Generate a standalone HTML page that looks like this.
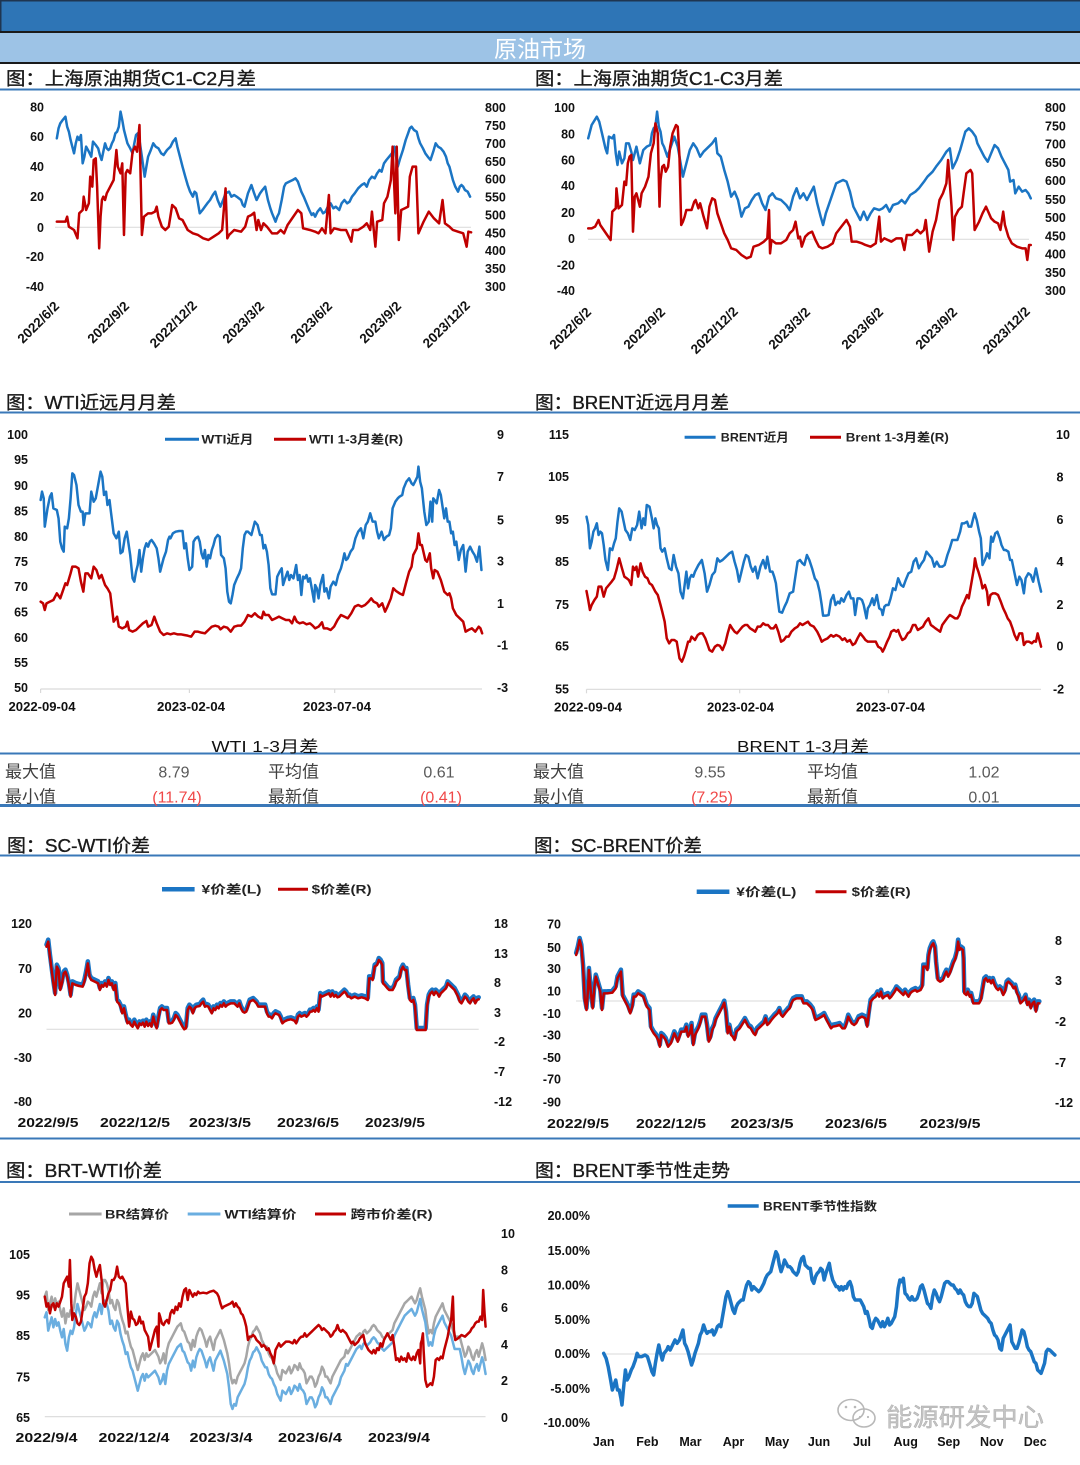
<!DOCTYPE html>
<html><head><meta charset="utf-8">
<style>
html,body{margin:0;padding:0;background:#fff;}
body{width:1080px;height:1465px;overflow:hidden;}
svg{display:block;}
.t{font-family:"Liberation Sans","Noto Sans CJK SC",sans-serif;font-size:12.5px;font-weight:bold;fill:#111;}
.rt{font-family:"Liberation Sans",sans-serif;font-size:13.5px;font-weight:bold;fill:#111;}
.ttl{font-family:"Liberation Sans","Noto Sans CJK SC",sans-serif;font-size:18px;fill:#1a1a1a;stroke:#1a1a1a;stroke-width:0.35;}
.lg{font-family:"Liberation Sans","Noto Sans CJK SC",sans-serif;font-size:12px;font-weight:bold;fill:#222;}
.tb{font-family:"Liberation Sans","Noto Sans CJK SC",sans-serif;font-size:17px;fill:#404040;}
.nm{font-family:"Liberation Sans",sans-serif;font-size:16px;fill:#595959;}
.rd{font-family:"Liberation Sans",sans-serif;font-size:16px;fill:#f04848;}
.pl{fill:none;stroke-linejoin:round;stroke-linecap:round;}
</style></head><body>
<svg width="1080" height="1465" viewBox="0 0 1080 1465" xmlns="http://www.w3.org/2000/svg">
<!-- header -->
<rect x="0" y="0" width="1080" height="31" fill="#2e75b6"/>
<rect x="0" y="0" width="1080" height="1.5" fill="#1f3550"/>
<rect x="0" y="0" width="1.5" height="64" fill="#1f3550"/>
<rect x="0" y="31" width="1080" height="2" fill="#1a1a1a"/>
<rect x="0" y="33" width="1080" height="29" fill="#9dc3e6"/>
<rect x="0" y="62" width="1080" height="2" fill="#1a1a1a"/>
<text x="540" y="57" text-anchor="middle" font-family="Liberation Sans,Noto Sans CJK SC,sans-serif" font-size="23" fill="#ffffff">原油市场</text>

<!-- separators -->
<g fill="#3a78b8">
<rect x="0" y="88.5" width="1080" height="2"/>
<rect x="0" y="411.5" width="1080" height="2"/>
<rect x="0" y="752.5" width="1080" height="2"/>
<rect x="0" y="804" width="1080" height="3"/>
<rect x="0" y="854.5" width="1080" height="2"/>
<rect x="0" y="1137.5" width="1080" height="2"/>
<rect x="0" y="1181" width="1080" height="2"/>
</g>

<!-- section titles -->
<text class="ttl" x="6" y="85" textLength="250" lengthAdjust="spacingAndGlyphs">图：上海原油期货C1-C2月差</text>
<text class="ttl" x="535" y="85" textLength="248" lengthAdjust="spacingAndGlyphs">图：上海原油期货C1-C3月差</text>
<text class="ttl" x="6" y="409" textLength="170" lengthAdjust="spacingAndGlyphs">图：WTI近远月月差</text>
<text class="ttl" x="535" y="409" textLength="194" lengthAdjust="spacingAndGlyphs">图：BRENT近远月月差</text>
<text class="ttl" x="7" y="852" textLength="143" lengthAdjust="spacingAndGlyphs">图：SC-WTI价差</text>
<text class="ttl" x="534" y="852" textLength="168" lengthAdjust="spacingAndGlyphs">图：SC-BRENT价差</text>
<text class="ttl" x="6" y="1177" textLength="156" lengthAdjust="spacingAndGlyphs">图：BRT-WTI价差</text>
<text class="ttl" x="535" y="1177" textLength="195" lengthAdjust="spacingAndGlyphs">图：BRENT季节性走势</text>

<!-- ===== Chart 1 ===== -->
<line x1="55" y1="227.3" x2="471" y2="227.3" stroke="#d9d9d9" stroke-width="1"/>
<g class="t" text-anchor="end">
<text x="44" y="111.5">80</text><text x="44" y="141.2">60</text><text x="44" y="171.2">40</text><text x="44" y="201.2">20</text><text x="44" y="231.8">0</text><text x="44" y="261.2">-20</text><text x="44" y="291.2">-40</text>
</g>
<g class="t">
<text x="485" y="111.8">800</text><text x="485" y="129.8">750</text><text x="485" y="147.8">700</text><text x="485" y="165.8">650</text><text x="485" y="183.5">600</text><text x="485" y="201.5">550</text><text x="485" y="219.5">500</text><text x="485" y="237.5">450</text><text x="485" y="255.2">400</text><text x="485" y="273.2">350</text><text x="485" y="291.2">300</text>
</g>
<g class="rt" text-anchor="middle">
<text x="38" y="327" transform="rotate(-45 38 322)">2022/6/2</text>
<text x="108" y="327" transform="rotate(-45 108 322)">2022/9/2</text>
<text x="173" y="329" transform="rotate(-45 173 324)">2022/12/2</text>
<text x="243" y="327" transform="rotate(-45 243 322)">2023/3/2</text>
<text x="311" y="327" transform="rotate(-45 311 322)">2023/6/2</text>
<text x="380" y="327" transform="rotate(-45 380 322)">2023/9/2</text>
<text x="446" y="329" transform="rotate(-45 446 324)">2023/12/2</text>
</g>
<g transform="translate(0,0) scale(0.34439,0.33333)">
<polyline class="pl" vector-effect="non-scaling-stroke" stroke="#1b75c4" stroke-width="2.5" points="165,415 170,385 175,370 182,360 190,350 195,380 200,395 205,420 210,440 215,460 220,430 225,410 230,420 235,405 240,490 245,470 250,440 258,455 265,470 270,425 278,435 285,445 290,465 295,480 300,455 305,430 310,445 315,450 320,445 325,430 330,420 335,400 340,395 345,380 350,335 355,360 360,390 365,410 370,430 378,445 385,460 390,430 395,405 400,400 405,420 412,470 420,530 425,500 430,470 438,450 445,430 452,440 460,445 468,460 475,465 485,450 495,440 502,425 510,415 515,440 520,460 525,480 530,500 538,530 545,555 552,575 560,590 565,575 570,580 575,610 580,640 588,630 595,620 602,610 610,600 618,585 625,575 632,600 640,620 648,600 655,580 665,575 672,590 680,585 690,592 700,600 705,615 710,620 720,580 730,555 738,580 745,600 755,580 762,570 770,560 778,600 785,625 790,640 800,665 805,650 810,640 818,600 825,560 830,550 840,545 850,540 858,535 865,545 870,560 875,575 882,590 890,610 898,630 905,645 910,640 915,650 922,635 930,625 938,640 945,635 952,620 960,610 968,625 975,620 980,625 985,630 992,610 1000,600 1008,610 1015,605 1022,590 1030,580 1040,565 1050,555 1058,550 1065,560 1072,540 1080,530 1088,535 1095,520 1102,510 1108,515 1115,490 1122,480 1130,470 1138,460 1145,440 1150,470 1155,500 1162,475 1170,450 1178,420 1185,400 1190,385 1195,380 1202,390 1210,395 1215,415 1220,430 1228,445 1235,460 1242,470 1250,480 1258,455 1265,430 1272,440 1280,445 1288,455 1295,470 1300,490 1305,500 1310,520 1315,540 1322,560 1330,575 1335,560 1340,555 1345,560 1350,570 1358,575 1365,590"/>
<polyline class="pl" vector-effect="non-scaling-stroke" stroke="#c00000" stroke-width="2.5" points="165,665 190,665 195,650 200,680 215,690 225,715 230,640 240,630 243,590 250,630 258,610 262,530 268,560 272,480 278,475 282,560 288,745 292,650 296,600 300,590 305,600 310,580 320,560 330,540 338,450 342,500 350,520 355,490 360,705 365,520 370,510 378,520 385,455 392,440 398,455 405,375 412,705 418,650 430,640 440,640 450,635 455,620 460,650 470,680 480,690 490,680 500,615 510,625 520,655 530,660 545,690 560,700 575,705 590,715 605,720 620,710 635,700 645,690 655,565 660,715 665,705 680,690 700,695 712,680 720,650 730,645 738,638 745,690 750,660 758,690 765,670 775,680 790,700 805,700 815,690 825,700 835,675 845,660 855,645 865,630 875,640 880,685 900,690 915,695 925,700 935,685 945,700 955,585 960,700 970,685 990,690 1005,690 1020,725 1025,690 1040,690 1055,680 1065,670 1075,690 1080,635 1090,740 1095,665 1110,660 1115,610 1125,590 1135,540 1140,440 1148,640 1152,440 1158,720 1165,630 1175,625 1185,620 1190,530 1198,500 1208,500 1215,700 1230,665 1245,635 1260,655 1275,670 1285,600 1292,670 1305,680 1315,690 1330,695 1345,700 1355,740 1360,695 1368,697"/>
</g>

<!-- ===== Chart 2 ===== -->
<line x1="588" y1="239.3" x2="1029" y2="239.3" stroke="#d9d9d9" stroke-width="1"/>
<g class="t" text-anchor="end">
<text x="575" y="111.8">100</text><text x="575" y="138.5">80</text><text x="575" y="164.5">60</text><text x="575" y="190.2">40</text><text x="575" y="216.8">20</text><text x="575" y="242.8">0</text><text x="575" y="269.5">-20</text><text x="575" y="295.2">-40</text>
</g>
<g class="t">
<text x="1045" y="111.8">800</text><text x="1045" y="130.5">750</text><text x="1045" y="148.5">700</text><text x="1045" y="167.2">650</text><text x="1045" y="185.2">600</text><text x="1045" y="203.8">550</text><text x="1045" y="221.8">500</text><text x="1045" y="240.5">450</text><text x="1045" y="258.5">400</text><text x="1045" y="277.2">350</text><text x="1045" y="295.2">300</text>
</g>
<g class="rt" text-anchor="middle">
<text x="570" y="333" transform="rotate(-45 570 328)">2022/6/2</text>
<text x="644" y="333" transform="rotate(-45 644 328)">2022/9/2</text>
<text x="714" y="335" transform="rotate(-45 714 330)">2022/12/2</text>
<text x="789" y="333" transform="rotate(-45 789 328)">2023/3/2</text>
<text x="862" y="333" transform="rotate(-45 862 328)">2023/6/2</text>
<text x="936" y="333" transform="rotate(-45 936 328)">2023/9/2</text>
<text x="1006" y="335" transform="rotate(-45 1006 330)">2023/12/2</text>
</g>
<g transform="translate(540,0) scale(0.34439,0.33333)">
<polyline class="pl" vector-effect="non-scaling-stroke" stroke="#1b75c4" stroke-width="2.5" points="140,415 150,375 165,350 172,365 180,400 190,445 195,460 200,410 210,415 215,405 220,460 225,495 230,455 238,490 245,475 250,430 258,430 265,455 270,480 280,440 290,490 300,450 310,440 320,435 325,400 330,385 335,380 340,335 345,380 350,395 355,430 360,440 370,470 380,440 390,410 400,440 410,500 415,530 425,490 435,450 445,430 455,445 465,470 475,455 490,440 500,430 510,415 515,460 525,470 535,510 545,545 555,590 565,575 575,600 585,650 595,625 605,620 615,600 625,585 635,580 645,610 655,630 665,590 675,580 685,595 700,600 715,615 725,630 735,590 745,565 755,595 765,580 775,600 785,580 795,560 805,610 815,650 822,675 830,640 840,610 850,580 860,550 870,545 880,540 890,545 900,575 910,620 920,640 930,660 940,635 950,660 960,640 970,625 985,630 995,625 1005,615 1015,635 1025,615 1040,610 1050,600 1060,610 1075,585 1090,575 1100,565 1115,545 1125,530 1140,515 1150,500 1165,480 1180,455 1190,445 1198,505 1210,480 1220,450 1235,395 1245,385 1255,395 1265,410 1270,430 1280,450 1290,470 1300,485 1310,460 1320,435 1330,445 1340,470 1350,490 1360,510 1365,545 1375,540 1380,580 1390,560 1400,575 1410,570 1418,580 1425,595"/>
<polyline class="pl" vector-effect="non-scaling-stroke" stroke="#c00000" stroke-width="2.5" points="140,685 150,685 160,680 170,660 175,675 185,690 195,705 205,720 210,635 220,625 222,565 228,625 238,615 245,545 250,555 255,490 260,470 265,465 270,695 275,590 280,580 285,600 290,620 295,580 305,560 315,530 322,460 330,430 335,370 342,400 347,620 350,540 355,500 360,495 365,515 372,500 378,440 385,400 395,375 400,380 405,470 410,675 415,665 420,650 425,630 440,630 448,605 452,600 460,625 465,610 475,650 485,685 492,620 500,595 508,600 515,640 525,670 535,700 545,720 555,745 570,750 585,765 600,775 612,770 620,740 635,735 650,725 660,715 665,630 668,760 672,720 685,730 700,730 715,720 725,700 735,690 742,665 750,715 755,710 760,740 770,710 780,700 790,695 800,720 810,740 820,745 835,740 850,730 860,700 875,680 890,660 900,680 905,725 920,725 935,730 945,735 960,740 975,730 985,650 990,725 1000,715 1010,720 1020,725 1035,715 1050,715 1058,750 1065,705 1080,705 1095,690 1105,700 1115,690 1120,660 1130,755 1140,695 1150,660 1160,600 1170,580 1180,550 1185,480 1190,550 1195,620 1200,720 1205,650 1215,630 1225,620 1230,580 1238,520 1250,510 1255,520 1262,690 1275,665 1285,640 1295,620 1310,655 1320,665 1330,670 1337,690 1345,635 1350,675 1360,710 1370,730 1385,740 1400,745 1410,745 1415,780 1420,735 1425,735"/>
</g>

<!-- ===== Chart 3 WTI ===== -->
<line x1="40.6" y1="689" x2="482" y2="689" stroke="#d9d9d9" stroke-width="1.2"/>
<g stroke="#d9d9d9" stroke-width="1.2"><line x1="40.6" y1="689" x2="40.6" y2="693"/><line x1="189.4" y1="689" x2="189.4" y2="693"/><line x1="334.7" y1="689" x2="334.7" y2="693"/></g>
<g class="t" text-anchor="end">
<text x="28" y="438.8">100</text><text x="28" y="464.2">95</text><text x="28" y="490.2">90</text><text x="28" y="515.5">85</text><text x="28" y="541.2">80</text><text x="28" y="566.2">75</text><text x="28" y="591.2">70</text><text x="28" y="616.5">65</text><text x="28" y="641.8">60</text><text x="28" y="667.2">55</text><text x="28" y="692.2">50</text>
</g>
<g class="t">
<text x="497" y="438.8">9</text><text x="497" y="481.2">7</text><text x="497" y="524.5">5</text><text x="497" y="565.5">3</text><text x="497" y="607.8">1</text><text x="497" y="649.5">-1</text><text x="497" y="692.2">-3</text>
</g>
<g class="t" text-anchor="middle">
<text x="42" y="711" textLength="67" lengthAdjust="spacingAndGlyphs">2022-09-04</text>
<text x="191" y="711" textLength="68" lengthAdjust="spacingAndGlyphs">2023-02-04</text>
<text x="337" y="711" textLength="68" lengthAdjust="spacingAndGlyphs">2023-07-04</text>
</g>
<line x1="165" y1="439.3" x2="199" y2="439.3" stroke="#1b75c4" stroke-width="3"/>
<text class="lg" x="201.5" y="443.5" textLength="52" lengthAdjust="spacingAndGlyphs">WTI近月</text>
<line x1="274" y1="439.3" x2="306" y2="439.3" stroke="#c00000" stroke-width="3"/>
<text class="lg" x="309" y="443.5" textLength="94" lengthAdjust="spacingAndGlyphs">WTI 1-3月差(R)</text>
<g transform="translate(0,385) scale(0.34439,0.33333)">
<polyline class="pl" vector-effect="non-scaling-stroke" stroke="#1b75c4" stroke-width="2.5" points="118,345 122,320 127,340 130,425 138,370 145,335 150,325 155,370 165,375 170,400 175,470 180,490 185,500 188,425 195,430 200,400 205,340 210,265 215,270 222,300 228,360 235,380 240,380 243,420 248,385 260,385 265,320 272,350 278,340 285,300 292,260 297,275 302,330 308,320 312,360 318,345 322,380 330,445 338,460 345,440 350,505 356,500 362,460 368,440 373,475 378,510 385,580 390,590 395,560 400,540 405,495 410,560 415,520 420,490 425,475 430,485 435,470 440,465 447,475 455,490 460,520 465,560 470,540 475,520 482,500 488,465 492,455 495,460 502,445 510,440 520,438 530,438 535,490 540,475 545,520 550,555 558,545 562,470 568,460 575,455 580,470 585,505 590,520 595,495 600,545 605,510 610,520 615,495 620,480 625,460 632,450 638,455 642,510 650,520 655,550 660,620 665,650 670,655 675,630 680,600 688,580 695,565 700,550 705,490 710,450 715,440 720,440 730,450 735,430 740,410 748,420 755,450 760,450 765,490 770,480 775,500 780,540 785,610 790,628 800,628 805,575 812,560 818,550 822,600 828,580 835,560 840,585 845,570 852,580 860,540 865,585 870,570 875,630 880,575 885,580 890,570 895,590 900,580 907,620 912,650 915,600 920,610 925,640 930,600 938,570 942,620 948,610 955,640 960,605 968,590 975,600 982,570 990,550 995,530 1000,505 1005,525 1010,520 1018,500 1025,490 1032,460 1040,440 1048,430 1055,460 1062,420 1068,410 1075,385 1082,410 1090,410 1095,440 1100,460 1108,440 1115,465 1122,455 1130,450 1135,430 1140,370 1148,350 1155,340 1160,335 1168,330 1172,310 1180,290 1188,280 1195,295 1200,300 1205,290 1212,275 1215,245 1220,290 1225,310 1232,380 1238,420 1245,410 1250,350 1255,410 1258,340 1262,345 1268,355 1275,315 1280,330 1285,365 1290,400 1295,370 1300,410 1305,410 1310,445 1315,440 1320,480 1325,470 1332,525 1338,495 1345,480 1352,560 1358,500 1365,485 1372,500 1378,510 1385,530 1392,485 1398,555"/>
<polyline class="pl" vector-effect="non-scaling-stroke" stroke="#c00000" stroke-width="2.5" points="118,650 125,655 130,675 135,655 145,650 155,645 165,625 175,640 185,610 190,595 195,600 205,565 210,545 220,545 228,550 235,590 242,620 248,565 255,565 265,580 272,545 280,555 288,580 295,570 305,600 312,610 320,625 330,710 340,695 345,725 355,730 365,725 370,710 375,735 385,740 395,735 405,725 415,715 425,708 430,725 440,720 448,695 455,715 465,740 475,750 485,745 495,748 505,745 515,748 525,748 535,750 545,752 555,755 565,740 575,740 585,743 595,745 605,735 615,725 625,722 635,725 640,733 650,725 660,728 670,740 680,725 690,722 700,722 710,710 720,690 730,695 740,685 750,695 760,700 765,680 770,690 780,690 790,705 800,700 810,695 820,700 830,705 840,705 848,715 855,695 862,710 870,715 880,712 890,718 900,715 908,722 915,730 925,725 935,712 940,730 950,730 960,735 970,725 980,705 990,690 1000,695 1010,700 1020,685 1030,665 1040,660 1050,665 1060,660 1070,650 1078,640 1085,650 1095,655 1100,665 1110,655 1118,680 1125,665 1135,640 1142,610 1150,618 1160,625 1170,630 1180,590 1188,560 1195,545 1200,510 1210,490 1215,445 1220,480 1225,480 1235,525 1240,530 1248,505 1252,550 1258,580 1262,555 1270,560 1280,585 1290,620 1300,630 1305,625 1310,640 1315,670 1325,690 1335,700 1345,710 1352,740 1360,735 1370,730 1380,740 1390,725 1395,730 1400,745"/>
</g>

<!-- ===== Chart 4 BRENT ===== -->
<line x1="586.5" y1="689.3" x2="1041" y2="689.3" stroke="#d9d9d9" stroke-width="1.2"/>
<g stroke="#d9d9d9" stroke-width="1.2"><line x1="586.5" y1="689.3" x2="586.5" y2="693.3"/><line x1="739.7" y1="689.3" x2="739.7" y2="693.3"/><line x1="888.5" y1="689.3" x2="888.5" y2="693.3"/></g>
<g class="t" text-anchor="end">
<text x="569" y="438.8">115</text><text x="569" y="481.2">105</text><text x="569" y="523.8">95</text><text x="569" y="566.2">85</text><text x="569" y="608.8">75</text><text x="569" y="650.5">65</text><text x="569" y="693.5">55</text>
</g>
<g class="t">
<text x="1056" y="438.8">10</text><text x="1056.5" y="481.5">8</text><text x="1056.5" y="523.8">6</text><text x="1056.5" y="566.2">4</text><text x="1056.5" y="608.8">2</text><text x="1056.5" y="650.5">0</text><text x="1053" y="693.5">-2</text>
</g>
<g class="t" text-anchor="middle">
<text x="588" y="711.5" textLength="68" lengthAdjust="spacingAndGlyphs">2022-09-04</text>
<text x="740.5" y="711.5" textLength="67" lengthAdjust="spacingAndGlyphs">2023-02-04</text>
<text x="890.5" y="711.5" textLength="69" lengthAdjust="spacingAndGlyphs">2023-07-04</text>
</g>
<line x1="684.6" y1="437.3" x2="715.6" y2="437.3" stroke="#1b75c4" stroke-width="3"/>
<text class="lg" x="720.8" y="441.5" textLength="68" lengthAdjust="spacingAndGlyphs">BRENT近月</text>
<line x1="810" y1="437.3" x2="841" y2="437.3" stroke="#c00000" stroke-width="3"/>
<text class="lg" x="845.8" y="441.5" textLength="103" lengthAdjust="spacingAndGlyphs">Brent 1-3月差(R)</text>
<g transform="translate(540,385) scale(0.34439,0.33333)">
<polyline class="pl" vector-effect="non-scaling-stroke" stroke="#1b75c4" stroke-width="2.5" points="135,395 140,420 145,490 150,470 155,440 160,430 165,415 170,450 175,440 180,445 185,480 190,525 197,555 203,490 210,495 215,475 220,460 225,410 230,370 237,380 242,405 248,435 255,445 262,465 268,430 275,435 282,420 288,380 295,430 300,400 305,420 310,360 318,365 325,400 330,430 335,400 340,420 345,430 350,490 355,500 362,490 368,520 375,550 382,555 388,510 395,545 402,565 408,620 415,640 420,600 425,560 430,610 435,580 440,570 445,575 450,560 460,540 470,525 478,565 485,620 492,600 500,570 508,560 515,520 522,530 530,525 540,515 550,505 558,500 565,530 572,555 578,590 585,560 592,530 598,510 605,515 612,545 618,560 625,545 632,580 640,545 648,525 655,550 660,515 668,560 675,560 680,575 685,595 690,640 695,680 703,683 710,665 717,650 725,625 735,620 740,585 748,530 755,525 762,535 768,540 775,510 782,525 790,550 798,580 805,590 812,620 818,660 822,692 830,692 838,690 845,645 852,630 858,660 865,650 870,655 875,640 882,650 890,630 897,620 903,640 910,640 915,690 922,640 928,640 935,645 940,660 948,700 952,670 958,660 965,640 970,660 978,630 985,670 992,675 995,690 1000,665 1005,660 1012,660 1018,640 1025,610 1032,615 1040,580 1048,600 1055,605 1062,585 1070,565 1078,560 1085,530 1092,520 1100,550 1108,535 1115,525 1122,500 1130,510 1138,520 1145,545 1152,530 1160,545 1168,545 1175,540 1183,510 1190,490 1197,465 1205,465 1212,465 1220,440 1225,415 1232,415 1240,410 1245,425 1252,425 1258,400 1262,385 1268,405 1275,440 1280,460 1285,540 1292,525 1298,505 1305,520 1310,455 1315,470 1322,445 1328,440 1335,460 1340,480 1347,495 1352,495 1360,500 1365,525 1370,525 1378,565 1385,600 1392,575 1398,585 1405,625 1410,580 1418,565 1425,570 1432,590 1440,550 1448,590 1455,620"/>
<polyline class="pl" vector-effect="non-scaling-stroke" stroke="#c00000" stroke-width="2.5" points="135,618 140,645 145,675 150,660 158,645 165,635 170,605 178,605 185,635 192,610 200,600 208,590 215,580 222,555 230,520 238,550 245,575 252,580 258,585 265,600 270,545 275,555 280,545 285,575 292,535 298,560 305,575 312,580 318,595 325,600 335,620 342,630 350,660 355,680 362,710 368,760 375,775 382,765 390,765 397,770 405,820 412,830 418,815 425,790 430,770 435,770 440,755 450,765 458,750 465,745 472,745 480,760 487,780 492,795 500,800 508,785 515,780 522,782 530,795 538,775 545,745 552,720 558,730 565,740 572,745 580,735 588,725 595,720 602,720 610,730 618,735 625,740 632,725 640,725 648,715 655,720 662,720 670,730 678,730 685,720 692,740 700,770 708,765 715,755 722,755 730,740 740,730 748,725 755,715 762,720 770,715 778,710 785,720 795,725 805,740 812,755 818,770 825,765 835,760 845,750 852,755 860,750 870,755 878,765 885,760 892,770 900,765 908,780 915,775 922,760 930,745 938,755 945,765 952,770 960,770 975,770 982,785 990,790 995,800 1000,790 1008,770 1015,755 1020,740 1028,735 1035,740 1040,735 1045,750 1052,765 1060,760 1068,745 1075,740 1083,720 1090,720 1097,735 1105,730 1112,725 1120,710 1128,700 1135,720 1142,725 1148,730 1155,735 1162,740 1168,720 1175,710 1182,700 1190,690 1198,695 1205,700 1212,700 1218,690 1225,665 1232,650 1240,630 1245,640 1250,610 1255,580 1260,550 1263,520 1268,545 1273,560 1280,585 1285,610 1292,600 1298,620 1302,660 1308,630 1315,625 1322,625 1330,630 1338,650 1345,670 1352,685 1358,700 1365,710 1372,730 1378,750 1385,765 1392,745 1400,745 1405,780 1412,770 1420,770 1428,775 1435,768 1440,770 1445,745 1450,765 1455,785"/>
</g>

<!-- ===== Table ===== -->
<text x="265" y="752" text-anchor="middle" font-family="Liberation Sans,Noto Sans CJK SC,sans-serif" font-size="16" fill="#111" textLength="107" lengthAdjust="spacingAndGlyphs">WTI 1-3月差</text>
<text x="803" y="752" text-anchor="middle" font-family="Liberation Sans,Noto Sans CJK SC,sans-serif" font-size="16" fill="#111" textLength="132" lengthAdjust="spacingAndGlyphs">BRENT 1-3月差</text>
<text class="tb" x="5" y="777.5">最大值</text>
<text class="tb" x="268" y="777.5">平均值</text>
<text class="tb" x="533" y="777.5">最大值</text>
<text class="tb" x="807" y="777.5">平均值</text>
<text class="tb" x="5" y="802.5">最小值</text>
<text class="tb" x="268" y="802.5">最新值</text>
<text class="tb" x="533" y="802.5">最小值</text>
<text class="tb" x="807" y="802.5">最新值</text>
<g text-anchor="middle">
<text class="nm" x="174" y="777.5">8.79</text>
<text class="nm" x="439" y="777.5">0.61</text>
<text class="nm" x="710" y="777.5">9.55</text>
<text class="nm" x="984" y="777.5">1.02</text>
<text class="rd" x="177" y="802.5">(11.74)</text>
<text class="rd" x="441" y="802.5">(0.41)</text>
<text class="rd" x="712" y="802.5">(7.25)</text>
<text class="nm" x="984" y="802.5">0.01</text>
</g>

<!-- ===== Chart 5 SC-WTI ===== -->
<line x1="46.5" y1="1029.3" x2="478.7" y2="1029.3" stroke="#d9d9d9" stroke-width="1"/>
<g class="t" text-anchor="end">
<text x="32" y="927.8">120</text><text x="32" y="972.8">70</text><text x="32" y="1017.5">20</text><text x="32" y="1061.8">-30</text><text x="32" y="1106.2">-80</text>
</g>
<g class="t">
<text x="494" y="927.8">18</text><text x="494" y="957.8">13</text><text x="494" y="987.2">8</text><text x="494" y="1016.8">3</text><text x="494" y="1046.2">-2</text><text x="494" y="1076.2">-7</text><text x="494" y="1106.2">-12</text>
</g>
<g class="t" text-anchor="middle">
<text x="48" y="1127.2" textLength="61" lengthAdjust="spacingAndGlyphs">2022/9/5</text>
<text x="135" y="1127.2" textLength="70" lengthAdjust="spacingAndGlyphs">2022/12/5</text>
<text x="220" y="1127.2" textLength="62" lengthAdjust="spacingAndGlyphs">2023/3/5</text>
<text x="308" y="1127.2" textLength="62" lengthAdjust="spacingAndGlyphs">2023/6/5</text>
<text x="395" y="1127.2" textLength="60" lengthAdjust="spacingAndGlyphs">2023/9/5</text>
</g>
<line x1="162" y1="889.3" x2="194.6" y2="889.3" stroke="#1b75c4" stroke-width="4.5"/>
<text class="lg" x="201.5" y="893.5" textLength="60" lengthAdjust="spacingAndGlyphs">¥价差(L)</text>
<line x1="278" y1="889.3" x2="308" y2="889.3" stroke="#c00000" stroke-width="3"/>
<text class="lg" x="311.6" y="893.5" textLength="60" lengthAdjust="spacingAndGlyphs">$价差(R)</text>
<g transform="translate(0,860) scale(0.34439,0.33333)">
<polyline class="pl" vector-effect="non-scaling-stroke" stroke="#1b75c4" stroke-width="4.5" transform="translate(0,-6)" points="135,260 140,245 145,290 150,330 155,370 160,405 165,320 170,330 175,390 180,370 185,340 190,335 195,350 200,375 205,410 210,370 220,375 230,378 240,380 245,365 250,340 255,310 260,350 265,360 275,365 285,370 290,390 295,375 300,380 305,370 310,380 315,360 320,375 325,370 330,390 335,375 340,425 345,430 350,440 355,460 360,445 365,470 370,490 375,485 380,495 385,500 390,485 395,495 400,505 405,490 410,495 415,488 420,500 425,485 430,498 435,490 440,500 445,470 450,490 455,505 460,475 465,450 470,445 475,450 485,450 490,490 495,490 500,488 505,480 510,465 515,470 520,480 525,490 530,500 535,508 540,505 545,450 550,440 555,445 560,460 565,445 570,440 580,438 585,430 590,425 595,440 600,438 605,440 610,450 615,460 620,445 625,450 630,440 635,445 640,435 645,440 650,430 655,440 660,435 670,430 680,430 690,440 695,430 700,445 705,455 710,458 715,455 720,440 725,425 735,420 745,430 750,440 770,440 775,460 780,470 785,470 790,475 795,465 800,460 810,465 815,475 820,490 825,485 835,480 845,478 855,482 860,490 865,470 870,465 875,470 885,465 890,470 895,465 900,455 905,455 910,450 915,455 920,445 925,455 930,405 935,410 945,405 955,400 960,410 965,400 970,410 975,405 980,412 985,410 990,405 995,400 1000,395 1005,400 1010,410 1015,410 1020,415 1030,410 1040,415 1050,412 1060,415 1068,420 1072,355 1078,355 1082,360 1088,320 1095,315 1100,300 1105,305 1110,315 1112,370 1117,375 1125,385 1130,390 1140,390 1145,380 1150,365 1155,360 1160,355 1165,330 1170,320 1175,330 1180,330 1185,380 1190,420 1195,425 1200,420 1205,440 1210,510 1236,510 1240,440 1245,410 1250,400 1255,395 1260,405 1265,395 1270,400 1275,410 1280,400 1285,395 1290,390 1295,385 1300,370 1305,375 1310,380 1315,385 1320,390 1325,400 1330,410 1335,425 1340,430 1345,420 1350,410 1355,415 1360,425 1365,430 1370,420 1375,415 1380,430 1385,420 1390,418"/>
<polyline class="pl" vector-effect="non-scaling-stroke" stroke="#c00000" stroke-width="2.5" points="135,260 140,245 145,290 150,330 155,370 160,405 165,320 170,330 175,390 180,370 185,340 190,335 195,350 200,375 205,410 210,370 220,375 230,378 240,380 245,365 250,340 255,310 260,350 265,360 275,365 285,370 290,390 295,375 300,380 305,370 310,380 315,360 320,375 325,370 330,390 335,375 340,425 345,430 350,440 355,460 360,445 365,470 370,490 375,485 380,495 385,500 390,485 395,495 400,505 405,490 410,495 415,488 420,500 425,485 430,498 435,490 440,500 445,470 450,490 455,505 460,475 465,450 470,445 475,450 485,450 490,490 495,490 500,488 505,480 510,465 515,470 520,480 525,490 530,500 535,508 540,505 545,450 550,440 555,445 560,460 565,445 570,440 580,438 585,430 590,425 595,440 600,438 605,440 610,450 615,460 620,445 625,450 630,440 635,445 640,435 645,440 650,430 655,440 660,435 670,430 680,430 690,440 695,430 700,445 705,455 710,458 715,455 720,440 725,425 735,420 745,430 750,440 770,440 775,460 780,470 785,470 790,475 795,465 800,460 810,465 815,475 820,490 825,485 835,480 845,478 855,482 860,490 865,470 870,465 875,470 885,465 890,470 895,465 900,455 905,455 910,450 915,455 920,445 925,455 930,405 935,410 945,405 955,400 960,410 965,400 970,410 975,405 980,412 985,410 990,405 995,400 1000,395 1005,400 1010,410 1015,410 1020,415 1030,410 1040,415 1050,412 1060,415 1068,420 1072,355 1078,355 1082,360 1088,320 1095,315 1100,300 1105,305 1110,315 1112,370 1117,375 1125,385 1130,390 1140,390 1145,380 1150,365 1155,360 1160,355 1165,330 1170,320 1175,330 1180,330 1185,380 1190,420 1195,425 1200,420 1205,440 1210,510 1236,510 1240,440 1245,410 1250,400 1255,395 1260,405 1265,395 1270,400 1275,410 1280,400 1285,395 1290,390 1295,385 1300,370 1305,375 1310,380 1315,385 1320,390 1325,400 1330,410 1335,425 1340,430 1345,420 1350,410 1355,415 1360,425 1365,430 1370,420 1375,415 1380,430 1385,420 1390,418"/>
</g>

<!-- ===== Chart 6 SC-BRENT ===== -->
<line x1="576" y1="1001" x2="1039" y2="1001" stroke="#d9d9d9" stroke-width="1"/>
<g class="t" text-anchor="end">
<text x="561" y="928.5">70</text><text x="561" y="951.8">50</text><text x="561" y="973.2">30</text><text x="561" y="995.5">10</text><text x="561" y="1018.2">-10</text><text x="561" y="1039.5">-30</text><text x="561" y="1062.2">-50</text><text x="561" y="1083.5">-70</text><text x="561" y="1106.5">-90</text>
</g>
<g class="t">
<text x="1055" y="945.2">8</text><text x="1055" y="985.2">3</text><text x="1055" y="1026.2">-2</text><text x="1055" y="1067.2">-7</text><text x="1055" y="1107.2">-12</text>
</g>
<g class="t" text-anchor="middle">
<text x="578" y="1127.8" textLength="62" lengthAdjust="spacingAndGlyphs">2022/9/5</text>
<text x="671" y="1127.8" textLength="70" lengthAdjust="spacingAndGlyphs">2022/12/5</text>
<text x="762" y="1127.8" textLength="63" lengthAdjust="spacingAndGlyphs">2023/3/5</text>
<text x="856" y="1127.8" textLength="62" lengthAdjust="spacingAndGlyphs">2023/6/5</text>
<text x="950" y="1127.8" textLength="61" lengthAdjust="spacingAndGlyphs">2023/9/5</text>
</g>
<line x1="696.7" y1="891.7" x2="729.4" y2="891.7" stroke="#1b75c4" stroke-width="4.5"/>
<text class="lg" x="736.3" y="896" textLength="60" lengthAdjust="spacingAndGlyphs">¥价差(L)</text>
<line x1="815.5" y1="891.7" x2="846.5" y2="891.7" stroke="#c00000" stroke-width="3"/>
<text class="lg" x="851.6" y="896" textLength="59" lengthAdjust="spacingAndGlyphs">$价差(R)</text>
<g transform="translate(540,860) scale(0.34439,0.33333)">
<polyline class="pl" vector-effect="non-scaling-stroke" stroke="#1b75c4" stroke-width="4.5" transform="translate(0,-6)" points="105,285 110,265 115,240 120,260 125,320 130,420 135,450 140,380 142,330 148,400 153,445 158,380 162,350 168,370 175,395 180,450 185,400 195,400 210,398 220,385 225,355 230,345 235,335 240,410 245,420 250,430 255,440 262,460 268,440 272,410 278,410 285,400 292,405 300,410 305,425 310,440 318,450 322,505 330,520 338,530 343,540 348,560 352,525 358,530 365,540 372,560 380,550 390,520 395,530 400,545 405,530 410,515 420,515 425,500 430,530 435,520 440,495 445,555 450,525 460,505 465,490 470,470 480,470 485,500 490,545 495,535 500,510 505,500 510,480 520,460 530,440 535,428 540,460 545,520 550,500 555,525 560,530 565,540 570,515 580,505 595,480 600,490 605,500 612,505 620,520 625,525 630,510 640,500 650,490 655,475 660,495 665,490 672,480 680,470 690,460 695,450 700,465 705,470 712,460 720,450 725,445 730,430 735,420 745,415 760,415 765,430 775,430 785,440 792,450 800,480 810,475 818,470 825,465 832,480 840,495 845,505 850,500 860,498 870,495 878,505 885,505 890,490 895,470 900,480 905,490 912,495 918,490 925,475 935,470 945,475 950,500 955,460 960,425 968,415 975,410 980,400 985,410 990,395 995,415 1000,410 1010,405 1015,415 1020,410 1030,395 1035,385 1040,390 1050,400 1055,405 1060,395 1070,410 1075,400 1080,395 1090,390 1095,395 1105,390 1110,380 1113,320 1120,320 1125,330 1128,290 1132,270 1138,255 1142,250 1147,265 1150,310 1155,360 1162,365 1170,360 1175,345 1180,335 1185,350 1190,340 1195,325 1200,310 1205,300 1210,280 1214,245 1218,270 1222,265 1228,270 1230,300 1232,400 1238,405 1242,395 1248,410 1252,405 1258,430 1275,430 1280,420 1285,390 1290,360 1295,355 1300,365 1305,360 1310,370 1315,360 1320,375 1325,385 1330,390 1335,385 1340,390 1345,405 1350,395 1355,370 1360,365 1365,370 1370,375 1375,385 1380,380 1385,400 1390,410 1395,430 1400,425 1405,420 1410,410 1415,435 1420,425 1425,445 1430,430 1435,425 1440,455 1445,430 1450,430"/>
<polyline class="pl" vector-effect="non-scaling-stroke" stroke="#c00000" stroke-width="2.5" points="105,285 110,265 115,240 120,260 125,320 130,420 135,450 140,380 142,330 148,400 153,445 158,380 162,350 168,370 175,395 180,450 185,400 195,400 210,398 220,385 225,355 230,345 235,335 240,410 245,420 250,430 255,440 262,460 268,440 272,410 278,410 285,400 292,405 300,410 305,425 310,440 318,450 322,505 330,520 338,530 343,540 348,560 352,525 358,530 365,540 372,560 380,550 390,520 395,530 400,545 405,530 410,515 420,515 425,500 430,530 435,520 440,495 445,555 450,525 460,505 465,490 470,470 480,470 485,500 490,545 495,535 500,510 505,500 510,480 520,460 530,440 535,428 540,460 545,520 550,500 555,525 560,530 565,540 570,515 580,505 595,480 600,490 605,500 612,505 620,520 625,525 630,510 640,500 650,490 655,475 660,495 665,490 672,480 680,470 690,460 695,450 700,465 705,470 712,460 720,450 725,445 730,430 735,420 745,415 760,415 765,430 775,430 785,440 792,450 800,480 810,475 818,470 825,465 832,480 840,495 845,505 850,500 860,498 870,495 878,505 885,505 890,490 895,470 900,480 905,490 912,495 918,490 925,475 935,470 945,475 950,500 955,460 960,425 968,415 975,410 980,400 985,410 990,395 995,415 1000,410 1010,405 1015,415 1020,410 1030,395 1035,385 1040,390 1050,400 1055,405 1060,395 1070,410 1075,400 1080,395 1090,390 1095,395 1105,390 1110,380 1113,320 1120,320 1125,330 1128,290 1132,270 1138,255 1142,250 1147,265 1150,310 1155,360 1162,365 1170,360 1175,345 1180,335 1185,350 1190,340 1195,325 1200,310 1205,300 1210,280 1214,245 1218,270 1222,265 1228,270 1230,300 1232,400 1238,405 1242,395 1248,410 1252,405 1258,430 1275,430 1280,420 1285,390 1290,360 1295,355 1300,365 1305,360 1310,370 1315,360 1320,375 1325,385 1330,390 1335,385 1340,390 1345,405 1350,395 1355,370 1360,365 1365,370 1370,375 1375,385 1380,380 1385,400 1390,410 1395,430 1400,425 1405,420 1410,410 1415,435 1420,425 1425,445 1430,430 1435,425 1440,455 1445,430 1450,430"/>
</g>

<!-- ===== Chart 7 BRT-WTI ===== -->
<line x1="44.8" y1="1416.7" x2="485.5" y2="1416.7" stroke="#d9d9d9" stroke-width="1.2"/>
<g class="t" text-anchor="end">
<text x="30" y="1258.8">105</text><text x="30" y="1299.5">95</text><text x="30" y="1340.2">85</text><text x="30" y="1381.5">75</text><text x="30" y="1422.2">65</text>
</g>
<g class="t">
<text x="501" y="1237.8">10</text><text x="501" y="1274.5">8</text><text x="501" y="1311.8">6</text><text x="501" y="1348.8">4</text><text x="501" y="1385.2">2</text><text x="501" y="1422.2">0</text>
</g>
<g class="t" text-anchor="middle">
<text x="46.5" y="1441.8" textLength="62" lengthAdjust="spacingAndGlyphs">2022/9/4</text>
<text x="134" y="1441.8" textLength="71" lengthAdjust="spacingAndGlyphs">2022/12/4</text>
<text x="221" y="1441.8" textLength="63" lengthAdjust="spacingAndGlyphs">2023/3/4</text>
<text x="310" y="1441.8" textLength="64" lengthAdjust="spacingAndGlyphs">2023/6/4</text>
<text x="399" y="1441.8" textLength="62" lengthAdjust="spacingAndGlyphs">2023/9/4</text>
</g>
<line x1="69" y1="1214" x2="101.6" y2="1214" stroke="#a6a6a6" stroke-width="3"/>
<text class="lg" x="105" y="1218.5" textLength="64" lengthAdjust="spacingAndGlyphs">BR结算价</text>
<line x1="187.7" y1="1214" x2="220.4" y2="1214" stroke="#6aaee0" stroke-width="3"/>
<text class="lg" x="224.5" y="1218.5" textLength="72" lengthAdjust="spacingAndGlyphs">WTI结算价</text>
<line x1="315" y1="1214" x2="346" y2="1214" stroke="#c00000" stroke-width="3"/>
<text class="lg" x="350.6" y="1218.5" textLength="82" lengthAdjust="spacingAndGlyphs">跨市价差(R)</text>
<g transform="translate(0,1150) scale(0.34439,0.33333)">
<polyline class="pl" vector-effect="non-scaling-stroke" stroke="#a6a6a6" stroke-width="2.5" points="130,440 135,425 140,480 145,460 150,440 155,470 160,445 165,465 170,455 175,480 180,500 185,475 190,520 195,490 200,500 205,480 210,490 215,470 220,430 225,400 230,420 235,440 240,460 245,480 250,470 255,455 260,460 265,470 270,440 275,425 280,440 285,420 290,400 295,430 300,390 305,390 310,400 315,420 320,460 325,450 330,470 335,480 340,450 345,460 350,490 355,510 360,525 365,550 370,545 375,570 380,590 385,600 390,620 395,640 400,660 405,640 410,620 415,610 420,630 425,610 430,620 440,610 450,600 460,620 465,640 470,630 475,610 480,640 485,600 490,580 495,570 500,560 505,550 510,540 515,530 520,525 525,520 530,540 535,545 540,560 545,575 550,580 555,600 560,570 565,590 570,560 575,545 580,535 585,540 590,555 595,570 600,590 605,570 610,560 615,580 620,600 625,570 630,560 635,550 640,540 645,555 650,570 655,590 660,610 665,640 670,680 675,700 680,690 685,700 690,680 695,670 700,660 705,650 710,640 715,620 720,590 725,570 730,560 735,545 740,540 745,530 750,540 755,550 760,570 765,580 770,590 775,590 780,610 785,620 790,625 795,640 800,650 805,670 810,680 815,690 820,660 825,665 830,670 835,660 840,650 845,670 850,660 855,645 860,650 865,660 870,640 875,655 880,660 885,670 890,700 895,690 900,680 905,680 910,690 915,710 920,700 925,680 930,670 935,650 940,660 945,680 950,680 955,690 960,700 965,680 970,670 975,660 980,650 985,640 990,630 1000,620 1005,600 1010,610 1015,600 1020,590 1025,580 1030,570 1035,560 1040,555 1045,550 1050,560 1055,545 1060,540 1065,550 1070,545 1075,540 1080,530 1085,525 1090,530 1095,540 1100,545 1105,550 1110,560 1115,565 1120,560 1125,555 1130,550 1135,545 1140,540 1145,520 1150,510 1155,500 1160,490 1165,480 1170,470 1175,460 1180,455 1185,450 1190,445 1195,440 1200,450 1205,460 1210,450 1215,430 1220,415 1225,440 1230,460 1235,480 1240,520 1245,550 1250,540 1255,550 1260,520 1265,500 1270,490 1275,480 1280,470 1285,460 1290,480 1295,490 1300,500 1305,510 1310,520 1315,540 1320,560 1335,560 1340,580 1345,600 1350,620 1355,610 1360,590 1365,600 1370,620 1375,630 1380,610 1385,600 1390,620 1395,600 1400,580 1405,600 1410,630"/>
<polyline class="pl" vector-effect="non-scaling-stroke" stroke="#6aaee0" stroke-width="2.5" transform="translate(0,62)" points="130,440 135,425 140,480 145,460 150,440 155,470 160,445 165,465 170,455 175,480 180,500 185,475 190,520 195,540 200,500 205,480 210,490 215,470 220,430 225,400 230,420 235,440 240,460 245,480 250,470 255,455 260,460 265,470 270,440 275,425 280,440 285,420 290,400 295,430 300,390 305,390 310,400 315,420 320,460 325,450 330,470 335,480 340,450 345,460 350,490 355,510 360,525 365,550 370,545 375,570 380,590 385,600 390,620 395,640 400,660 405,640 410,620 415,610 420,630 425,610 430,620 440,610 450,600 460,620 465,640 470,630 475,610 480,640 485,600 490,580 495,570 500,560 505,550 510,540 515,530 520,525 525,520 530,540 535,545 540,560 545,575 550,580 555,600 560,570 565,590 570,560 575,545 580,535 585,540 590,555 595,570 600,590 605,570 610,560 615,580 620,600 625,570 630,560 635,550 640,540 645,555 650,570 655,590 660,610 665,650 670,700 675,715 680,700 685,705 690,680 695,670 700,660 705,650 710,640 715,620 720,590 725,570 730,560 735,545 740,540 745,530 750,540 755,550 760,570 765,580 770,590 775,590 780,610 785,620 790,625 795,640 800,650 805,670 810,680 815,690 820,660 825,665 830,670 835,660 840,650 845,670 850,660 855,645 860,650 865,660 870,640 875,655 880,660 885,670 890,700 895,690 900,680 905,680 910,690 915,710 920,700 925,680 930,670 935,650 940,660 945,680 950,680 955,690 960,700 965,680 970,670 975,660 980,650 985,640 990,620 1000,600 1005,580 1010,585 1015,575 1020,565 1025,555 1030,545 1035,535 1040,530 1045,525 1050,535 1055,520 1060,515 1065,525 1070,520 1075,515 1080,505 1085,500 1090,505 1095,515 1100,520 1105,525 1110,535 1115,540 1120,535 1125,530 1130,525 1135,520 1140,515 1145,495 1150,485 1155,475 1160,465 1165,455 1170,445 1175,435 1180,430 1185,425 1190,420 1195,415 1200,425 1205,435 1210,425 1215,405 1220,385 1225,415 1230,435 1235,455 1240,495 1245,525 1250,515 1255,525 1260,495 1265,475 1270,465 1275,455 1280,445 1285,435 1290,455 1295,465 1300,475 1305,485 1310,495 1315,515 1320,535 1335,535 1340,560 1345,590 1350,610 1355,590 1360,570 1365,580 1370,600 1375,610 1380,590 1385,580 1390,600 1395,580 1400,560 1405,580 1410,610"/>
<polyline class="pl" vector-effect="non-scaling-stroke" stroke="#c00000" stroke-width="2.5" points="130,440 135,470 140,460 145,490 150,465 155,460 160,480 165,460 170,470 175,455 180,440 185,400 190,390 195,380 200,410 203,330 207,460 210,510 215,490 220,500 225,520 230,525 235,515 240,480 245,440 250,430 255,400 260,340 265,320 270,330 275,360 280,380 285,360 290,345 295,390 300,460 305,470 310,450 315,430 320,420 325,390 330,390 335,380 340,350 345,380 350,385 355,380 360,390 365,400 370,470 375,530 380,485 385,505 390,510 395,525 400,520 405,500 410,520 415,515 420,540 425,550 430,560 435,600 440,580 445,560 450,540 455,530 460,590 462,490 465,500 470,520 475,525 480,515 485,510 490,520 495,490 500,480 505,490 510,470 515,480 520,460 525,470 530,440 535,420 540,415 545,450 550,420 555,430 560,440 565,430 570,435 575,425 580,430 590,428 600,430 610,425 620,422 630,430 635,440 640,460 645,475 650,470 660,465 670,460 675,455 680,470 685,460 690,470 695,475 700,490 705,495 710,510 715,530 720,570 725,560 730,560 735,555 740,560 745,570 750,575 755,580 760,590 765,585 770,590 775,600 780,595 785,610 790,620 795,640 800,600 805,590 810,580 815,590 820,585 825,580 830,575 840,575 850,580 855,570 860,580 870,565 875,560 880,560 885,550 890,560 895,555 900,550 905,545 910,540 915,535 920,530 925,525 930,530 935,540 940,535 945,540 950,545 955,550 960,560 965,555 970,545 975,540 980,525 985,540 990,545 995,540 1000,545 1005,550 1010,560 1015,570 1020,580 1025,575 1030,585 1035,580 1040,575 1045,565 1050,560 1055,555 1060,580 1065,590 1070,600 1075,605 1080,610 1085,600 1090,610 1095,595 1100,600 1105,580 1110,590 1115,570 1120,560 1125,550 1130,560 1135,570 1140,555 1145,590 1150,630 1155,625 1160,635 1165,620 1170,630 1175,625 1180,635 1185,610 1190,625 1195,630 1200,620 1205,630 1210,610 1215,600 1220,640 1222,580 1225,570 1228,550 1230,600 1235,690 1240,710 1245,705 1250,700 1255,705 1260,680 1265,630 1270,625 1275,630 1280,620 1285,625 1290,600 1295,580 1300,560 1305,530 1310,510 1315,440 1318,540 1322,570 1330,565 1340,555 1350,560 1360,550 1365,545 1370,535 1375,530 1380,520 1385,515 1390,515 1395,500 1400,510 1403,420 1407,490 1410,530"/>
</g>

<!-- ===== Chart 8 BRENT seasonal ===== -->
<line x1="602" y1="1354" x2="1056.5" y2="1354" stroke="#d9d9d9" stroke-width="1"/>
<g class="t" text-anchor="end">
<text x="590" y="1220.2">20.00%</text><text x="590" y="1254.8">15.00%</text><text x="590" y="1289.5">10.00%</text><text x="590" y="1324.2">5.00%</text><text x="590" y="1357.8">0.00%</text><text x="590" y="1393.2">-5.00%</text><text x="590" y="1427.2">-10.00%</text>
</g>
<g class="t" text-anchor="middle">
<text x="603.7" y="1446.2">Jan</text><text x="647.4" y="1446.2">Feb</text><text x="690.5" y="1446.2">Mar</text><text x="733.5" y="1446.2">Apr</text><text x="777" y="1446.2">May</text><text x="819" y="1446.2">Jun</text><text x="862" y="1446.2">Jul</text><text x="905.7" y="1446.2">Aug</text><text x="948.7" y="1446.2">Sep</text><text x="991.8" y="1446.2">Nov</text><text x="1035.2" y="1446.2">Dec</text>
</g>
<line x1="727.7" y1="1206" x2="758.7" y2="1206" stroke="#1b75c4" stroke-width="3.5"/>
<text class="lg" x="763" y="1210.3" textLength="114" lengthAdjust="spacingAndGlyphs">BRENT季节性指数</text>
<g transform="translate(540,1150) scale(0.34439,0.33333)">
<polyline class="pl" vector-effect="non-scaling-stroke" stroke="#1b75c4" stroke-width="3.5" points="185,610 192,625 198,650 205,690 210,720 215,705 220,690 225,720 230,720 235,745 238,765 242,720 248,660 253,690 258,680 265,660 270,650 277,630 282,610 287,620 295,620 305,615 312,620 318,640 325,665 330,675 335,640 340,610 345,585 350,610 355,630 360,610 368,600 372,590 378,600 385,585 392,570 398,580 405,570 410,555 415,540 420,580 425,590 430,605 435,625 440,645 445,630 450,610 455,595 460,580 465,555 470,545 475,525 480,540 485,550 490,545 495,545 500,540 505,555 510,545 515,530 520,525 525,530 530,500 535,470 540,440 545,425 550,440 555,460 560,480 565,490 570,470 575,460 580,455 585,450 590,450 595,425 600,405 605,395 610,400 615,420 620,410 625,415 630,420 635,425 640,420 645,410 650,400 655,385 660,375 665,370 670,365 675,345 680,325 685,305 690,315 695,345 700,365 705,350 710,330 715,340 720,350 725,350 730,355 735,365 740,370 745,375 750,365 755,340 760,325 765,320 770,345 775,350 780,355 785,355 790,390 795,400 800,380 805,370 810,365 815,355 820,360 825,390 830,370 835,355 840,340 845,370 850,390 855,400 860,410 865,410 870,420 875,410 880,420 885,410 890,415 895,400 900,395 905,410 910,440 915,450 930,450 935,460 940,470 945,490 950,485 955,505 960,530 965,535 970,515 975,505 980,510 985,520 990,530 995,515 1000,530 1005,520 1010,505 1015,525 1020,520 1025,510 1030,500 1035,470 1040,415 1045,390 1050,395 1055,385 1060,430 1065,435 1070,445 1075,450 1080,440 1085,450 1090,450 1095,445 1100,430 1105,410 1110,405 1115,420 1120,440 1125,460 1130,465 1135,475 1140,440 1145,420 1150,430 1155,445 1160,455 1165,440 1170,420 1175,400 1180,395 1185,395 1190,400 1195,405 1200,405 1205,415 1210,420 1215,430 1220,420 1225,430 1230,435 1235,455 1240,465 1245,470 1250,470 1255,460 1260,430 1265,435 1270,440 1275,460 1280,480 1285,490 1290,495 1295,500 1300,505 1305,515 1310,520 1315,540 1320,555 1325,560 1330,570 1335,595 1340,600 1345,565 1350,555 1355,545 1360,535 1365,525 1370,575 1375,585 1380,595 1385,595 1390,580 1395,560 1400,540 1405,545 1410,565 1415,590 1420,600 1425,605 1430,620 1435,635 1440,640 1445,660 1450,665 1455,670 1460,655 1465,640 1470,605 1475,598 1480,600 1485,605 1490,610 1495,615"/>
</g>
<!-- watermark -->
<g fill="none" stroke="#b8b8b8" stroke-width="1.6">
<ellipse cx="851" cy="1410" rx="13" ry="10.5"/>
<ellipse cx="864" cy="1418" rx="11" ry="9"/>
</g>
<g fill="#b8b8b8"><circle cx="846" cy="1407" r="1.3"/><circle cx="855" cy="1407" r="1.3"/><circle cx="860" cy="1417" r="1.1"/><circle cx="868" cy="1417" r="1.1"/></g>
<text x="886" y="1426" font-family="Liberation Sans,Noto Sans CJK SC,sans-serif" font-size="25" fill="#c4c4c4" stroke="#a8a8a8" stroke-width="0.4" textLength="158" lengthAdjust="spacingAndGlyphs">能源研发中心</text>
</svg>
</body></html>
